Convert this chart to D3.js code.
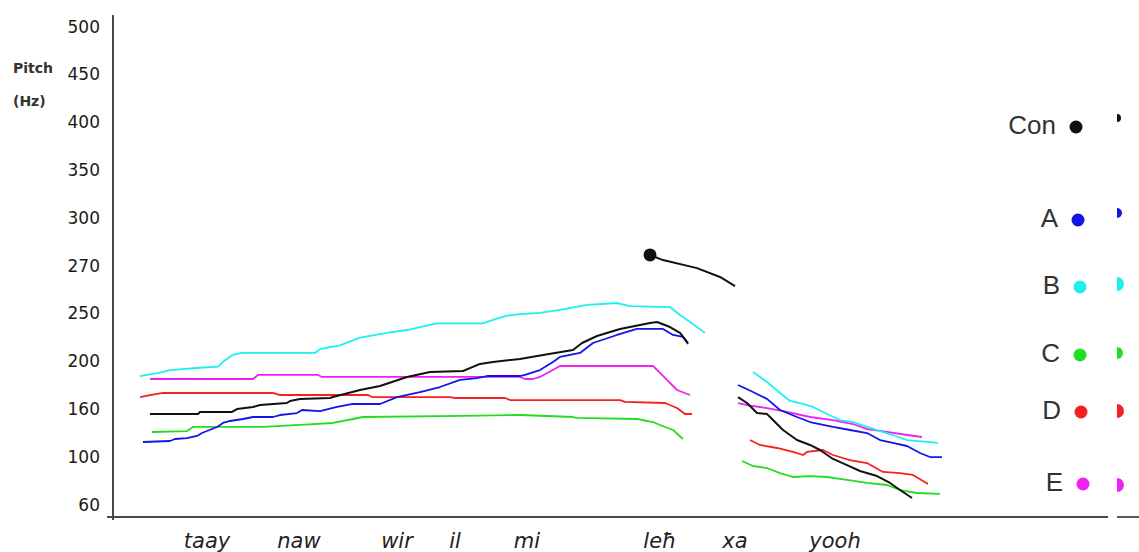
<!DOCTYPE html>
<html>
<head>
<meta charset="utf-8">
<script src="https://cdn.jsdelivr.net/npm/d3@7"></script>
<style>
  html, body { margin: 0; padding: 0; background: #fff; }
  svg { display: block; }
</style>
</head>
<body>
<svg id="chart" width="1139" height="552"></svg>
<script>
// Pitch axis tick values (Hz); the axis spaces them evenly.
const pitchTicks = [60, 100, 160, 200, 250, 270, 300, 350, 400, 450, 500];

// Syllables along the utterance, with their time (ms).
const syllables = ["taay", "naw", "wir", "il", "mi", "leħ", "xa", "yooh"];
const syllableTimes = [94, 186, 284, 342, 414, 547, 622, 722];

// Speaker labels and colours.
const speakers = ["Con", "A", "B", "C", "D", "E"];
const speakerColors = ["#111111", "#1414e6", "#1ef0f0", "#22dd22", "#f52020", "#f020f0"];

// Pitch contours: [time ms, pitch Hz], two stretches per speaker.
const conFirst = [[37,153],[85,153],[87,155.5],[119,155.5],[124,159.2],[140,161.2],[147,162.8],[174,164.5],[177,166.2],[187,167.9],[217,168.7],[220,169.5],[247,175.4],[267,178.7],[294,186.3],[317,190.5],[350,191.3],[367,197.2],[380,198.8],[407,201.7],[430,205.9],[460,211.1],[469,218.4],[484,225.7],[507,233.1],[537,239.3],[544,240.4],[557,235.1],[567,228.9],[575,218.4]];
const conPeak = [[537,276.3],[550,273.1],[584,268.7],[607,265],[622,261.2]];
const conSecond = [[625,169.5],[634,164.5],[644,154.2],[654,153],[670,132.9],[684,120.3],[697,114.1],[707,107.8],[720,97.7],[734,92.6],[747,87.6],[764,83.4],[777,77.6],[787,71.7],[799,65]];

const aFirst = [[30,117.8],[57,119.1],[62,121.6],[74,122.8],[84,125.4],[89,129.1],[104,136.7],[110,141.7],[117,144.2],[130,146.7],[140,149.2],[160,149.2],[167,151.7],[184,154.2],[189,158],[207,156.7],[224,161.2],[240,163.7],[267,163.7],[284,169.5],[307,173.7],[327,177.9],[347,183.8],[364,185.4],[374,187.1],[407,187.1],[412,188],[427,192.1],[440,198.8],[447,203.8],[467,208],[480,218.4],[504,226.8],[524,233.1],[550,233.1],[560,226.8],[570,224.7],[575,217.4]];
const aSecond = [[625,179.6],[640,173.7],[654,168],[667,158],[684,149.2],[697,142.9],[720,136.7],[737,132.9],[754,129.1],[767,120.3],[780,116.6],[794,112.8],[807,104],[817,99.3],[829,99.3]];

const bFirst = [[27,187],[47,190],[57,192],[87,194],[105,195],[110,199],[120,206],[129,208],[202,208],[207,212],[217,214],[227,216],[247,224],[274,229],[294,232],[307,235],[324,239],[370,239],[380,242.5],[394,247],[407,248.7],[427,250],[447,251.2],[474,253.3],[504,254.1],[517,252.8],[557,252.4],[567,247.7],[577,240.4],[592,229]];
const bSecond = [[640,190.5],[654,182.1],[667,172.9],[677,166.2],[687,164.5],[700,161.2],[714,153],[727,145.4],[740,142.9],[754,136.7],[767,131.6],[780,126.6],[794,120.3],[825,116.6]];

const cFirst = [[39,130.4],[74,131.6],[80,136.7],[150,136.7],[187,139.2],[220,141.7],[240,146.7],[250,149.2],[350,150.5],[407,151.7],[460,149.2],[464,148],[524,146.7],[540,142.9],[547,139.2],[560,132.9],[570,121.6]];
const cSecond = [[629,96],[640,91.8],[654,90.1],[667,85.9],[680,82.6],[697,83.4],[714,82.6],[734,80.1],[754,77.6],[774,75.9],[787,71.7],[804,69.2],[827,68.4]];

const dFirst = [[27,169.5],[37,171.2],[50,172.9],[160,172.9],[167,171.2],[255,171.2],[259,169.5],[337,169.5],[342,168.7],[392,168.7],[397,167],[507,167],[512,165.4],[552,164.5],[564,160.3],[572,153],[579,153]];
const dSecond = [[637,120.3],[647,114.1],[664,110.3],[680,105.3],[690,101.5],[694,105.3],[710,107.8],[720,101.5],[737,96.8],[754,94.3],[770,86.8],[787,85.9],[800,84.3],[815,76.7]];

const eFirst = [[37,184.6],[140,184.6],[145,188],[205,188],[209,186.3],[407,186.3],[412,184.6],[420,184.6],[427,186.3],[447,195.5],[540,195.5],[554,183.8],[564,175.4],[577,171.2]];
const eSecond = [[625,164.5],[640,162],[654,160.3],[674,155.5],[697,149.2],[720,145.4],[740,140.4],[754,134.1],[774,130.4],[794,126.6],[809,124.1]];

const svg = d3.select("#chart");

const x = d3.scaleLinear().domain([0, 1000]).range([113, 1113]);
// Piecewise scale: equal spacing between successive tick values.
const yTop = 26, yStep = 47.8;
const y = d3.scaleLinear()
  .domain(pitchTicks)
  .range(pitchTicks.map((d, i) => yTop + yStep * (pitchTicks.length - 1 - i)));

const line = d3.line().x(d => x(d[0])).y(d => y(d[1]));

// Axes
const axisColor = "#4a4a4a";
svg.append("line").attr("x1", 113).attr("x2", 113).attr("y1", 15).attr("y2", 520)
  .attr("stroke", axisColor).attr("stroke-width", 2);
svg.append("line").attr("x1", 107).attr("x2", 1108).attr("y1", 517).attr("y2", 517)
  .attr("stroke", axisColor).attr("stroke-width", 2);
svg.append("line").attr("x1", 1117).attr("x2", 1139).attr("y1", 517).attr("y2", 517)
  .attr("stroke", "#222").attr("stroke-width", 1.5);

const yAxis = d3.axisLeft(y).tickValues(pitchTicks).tickSize(0).tickPadding(0);
const yg = svg.append("g").attr("transform", "translate(100,0)").call(yAxis);
yg.select(".domain").remove();
yg.selectAll("text")
  .attr("font-family", "DejaVu Sans, Verdana, sans-serif")
  .attr("font-size", 17)
  .attr("fill", "#1a1a1a")
  .attr("dy", "0.36em");

svg.append("text").attr("x", 13).attr("y", 73).text("Pitch")
  .attr("font-family", "DejaVu Sans, sans-serif").attr("font-size", 14)
  .attr("font-weight", "bold").attr("fill", "#333");
svg.append("text").attr("x", 13).attr("y", 106).text("(Hz)")
  .attr("font-family", "DejaVu Sans, sans-serif").attr("font-size", 14)
  .attr("font-weight", "bold").attr("fill", "#333");

// Syllable labels under the time axis
svg.append("g").selectAll("text").data(syllables).join("text")
  .attr("x", (d, i) => x(syllableTimes[i]))
  .attr("y", 548)
  .attr("text-anchor", "middle")
  .attr("font-family", "DejaVu Sans, Verdana, sans-serif")
  .attr("font-style", "italic")
  .attr("font-size", 21)
  .attr("fill", "#222")
  .text(d => d);

// Contours
const contours = [
  { data: dFirst, c: 4 }, { data: dSecond, c: 4 },
  { data: cFirst, c: 3 }, { data: cSecond, c: 3 },
  { data: eFirst, c: 5 }, { data: eSecond, c: 5 },
  { data: bFirst, c: 2 }, { data: bSecond, c: 2 },
  { data: aFirst, c: 1 }, { data: aSecond, c: 1 },
  { data: conFirst, c: 0 }, { data: conSecond, c: 0 }, { data: conPeak, c: 0 }
];
svg.append("g").selectAll("path").data(contours).join("path")
  .attr("d", d => line(d.data))
  .attr("fill", "none")
  .attr("stroke", d => speakerColors[d.c])
  .attr("stroke-width", d => d.c === 0 ? 2 : 1.8)
  .attr("stroke-linejoin", "round");

svg.append("circle")
  .attr("cx", x(conPeak[0][0])).attr("cy", y(conPeak[0][1])).attr("r", 6.5)
  .attr("fill", "#111");

// Legend
const legendY = [127, 220, 287, 355, 412, 484];
const legendDotX = [1076, 1078, 1080, 1080, 1081, 1083];
const edgeR = [4, 5, 7, 6, 7, 7];
const edgeY = [118, 213, 284, 353, 411, 485];

svg.append("defs").append("clipPath").attr("id", "edgeClip")
  .append("rect").attr("x", 1117).attr("y", 0).attr("width", 30).attr("height", 552);

const lg = svg.append("g");
speakers.forEach((s, i) => {
  lg.append("text")
    .attr("x", legendDotX[i] - 20)
    .attr("y", legendY[i] - 2)
    .attr("dy", "0.36em")
    .attr("text-anchor", "end")
    .attr("font-family", "Liberation Sans, Arial, sans-serif")
    .attr("font-size", 26)
    .attr("fill", "#333")
    .text(s);
  lg.append("circle")
    .attr("cx", legendDotX[i]).attr("cy", legendY[i]).attr("r", 6.5)
    .attr("fill", speakerColors[i]);
  lg.append("circle")
    .attr("cx", 1117).attr("cy", edgeY[i]).attr("r", edgeR[i])
    .attr("fill", speakerColors[i])
    .attr("clip-path", "url(#edgeClip)");
});
</script>
</body>
</html>
